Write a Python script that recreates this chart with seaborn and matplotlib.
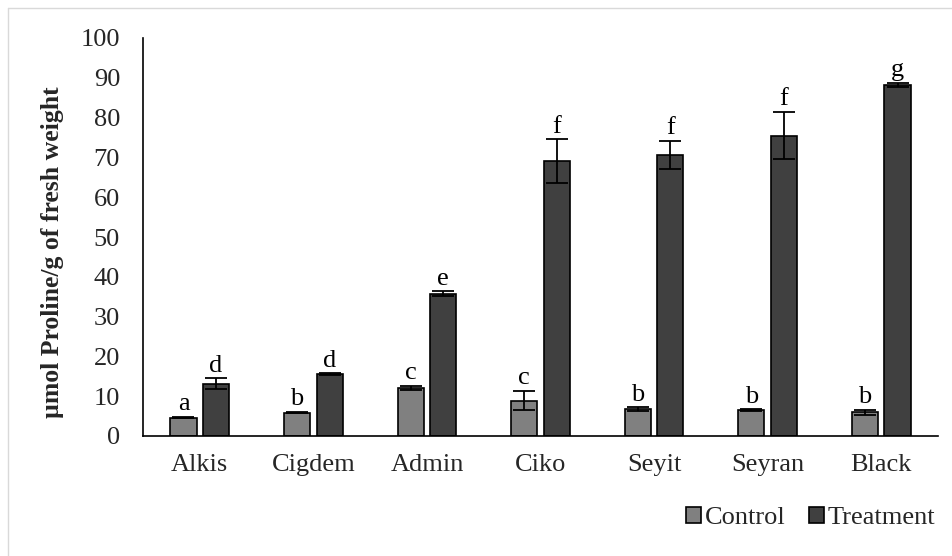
import matplotlib
matplotlib.use("Agg")
import matplotlib.pyplot as plt
from matplotlib.lines import Line2D
import seaborn as sns
import pandas as pd
import numpy as np

# Proline content per genotype (means and standard errors)
genotypes = ["Alkis", "Cigdem", "Admin", "Ciko", "Seyit", "Seyran", "Black"]
control_mean = [4.6, 5.9, 12.1, 8.9, 6.8, 6.5, 6.0]
control_err = [0.2, 0.2, 0.5, 2.4, 0.4, 0.2, 0.6]
treatment_mean = [13.1, 15.6, 35.8, 69.0, 70.6, 75.5, 88.2]
treatment_err = [1.4, 0.2, 0.6, 5.5, 3.6, 6.0, 0.5]
control_letters = ["a", "b", "c", "c", "b", "b", "b"]
treatment_letters = ["d", "d", "e", "f", "f", "f", "g"]
groups = ["Control", "Treatment"]
yticks = [0, 10, 20, 30, 40, 50, 60, 70, 80, 90, 100]

df = pd.DataFrame({
    "Genotype": genotypes * 2,
    "Group": [groups[0]] * len(genotypes) + [groups[1]] * len(genotypes),
    "Proline": control_mean + treatment_mean,
})

sns.set_theme(style="white")
plt.rcParams["font.family"] = ["Liberation Serif", "DejaVu Serif"]

FS = 19

fig = plt.figure(figsize=(9.53, 5.56), dpi=100)
ax = fig.add_axes([143 / 953, 1 - 436 / 556, (938 - 143) / 953, (436 - 38) / 556])

palette = {"Control": "#808080", "Treatment": "#404040"}
sns.barplot(data=df, x="Genotype", y="Proline", hue="Group", order=genotypes,
            hue_order=groups, palette=palette, width=0.575, gap=0.2,
            errorbar=None, edgecolor="black", linewidth=1.2, saturation=1,
            ax=ax, legend=True)

# Error bars and significance letters placed on each bar
series = [(control_mean, control_err, control_letters),
          (treatment_mean, treatment_err, treatment_letters)]
for container, (means, errs, letters) in zip(ax.containers, series):
    xs = [p.get_x() + p.get_width() / 2 for p in container.patches]
    ax.errorbar(xs, means, yerr=errs, fmt="none", ecolor="black",
                elinewidth=1.3, capsize=8, capthick=1.3, zorder=5)
    for x, m, e, lab in zip(xs, means, errs, letters):
        ax.text(x, m + e + 0.4, lab, ha="center", va="bottom",
                fontsize=FS, color="black")

ax.set_ylim(0, 100)
ax.set_xlim(-0.5, len(genotypes) - 0.5)
ax.set_yticks(yticks)
ax.set_yticklabels([str(t) for t in yticks], fontsize=FS)
ax.tick_params(axis="x", labelsize=FS, length=0, pad=13)
ax.tick_params(axis="y", length=0, pad=16.5)
ax.set_xlabel("")
ax.set_ylabel("µmol Proline/g of fresh weight", fontsize=18.5,
              fontweight="bold")
ax.yaxis.set_label_coords(-0.099, 0.462)
for side in ("top", "right"):
    ax.spines[side].set_visible(False)
for side in ("left", "bottom"):
    ax.spines[side].set_color("black")
    ax.spines[side].set_linewidth(1.2)

handles, labels = ax.get_legend_handles_labels()
ax.legend(handles, labels, loc="center", bbox_to_anchor=(811 / 953, 1 - 518 / 556),
          bbox_transform=fig.transFigure, ncol=2, frameon=False, fontsize=FS,
          handlelength=0.55, handleheight=0.55, handletextpad=0.15,
          columnspacing=0.9)

# Light chart-area border
fig.add_artist(Line2D([8 / 953, 1], [1 - 8 / 556, 1 - 8 / 556],
                      transform=fig.transFigure, color="#d9d9d9", lw=1))
fig.add_artist(Line2D([8 / 953, 8 / 953], [0, 1 - 8 / 556],
                      transform=fig.transFigure, color="#d9d9d9", lw=1))

fig.savefig("out.png", dpi=100)
